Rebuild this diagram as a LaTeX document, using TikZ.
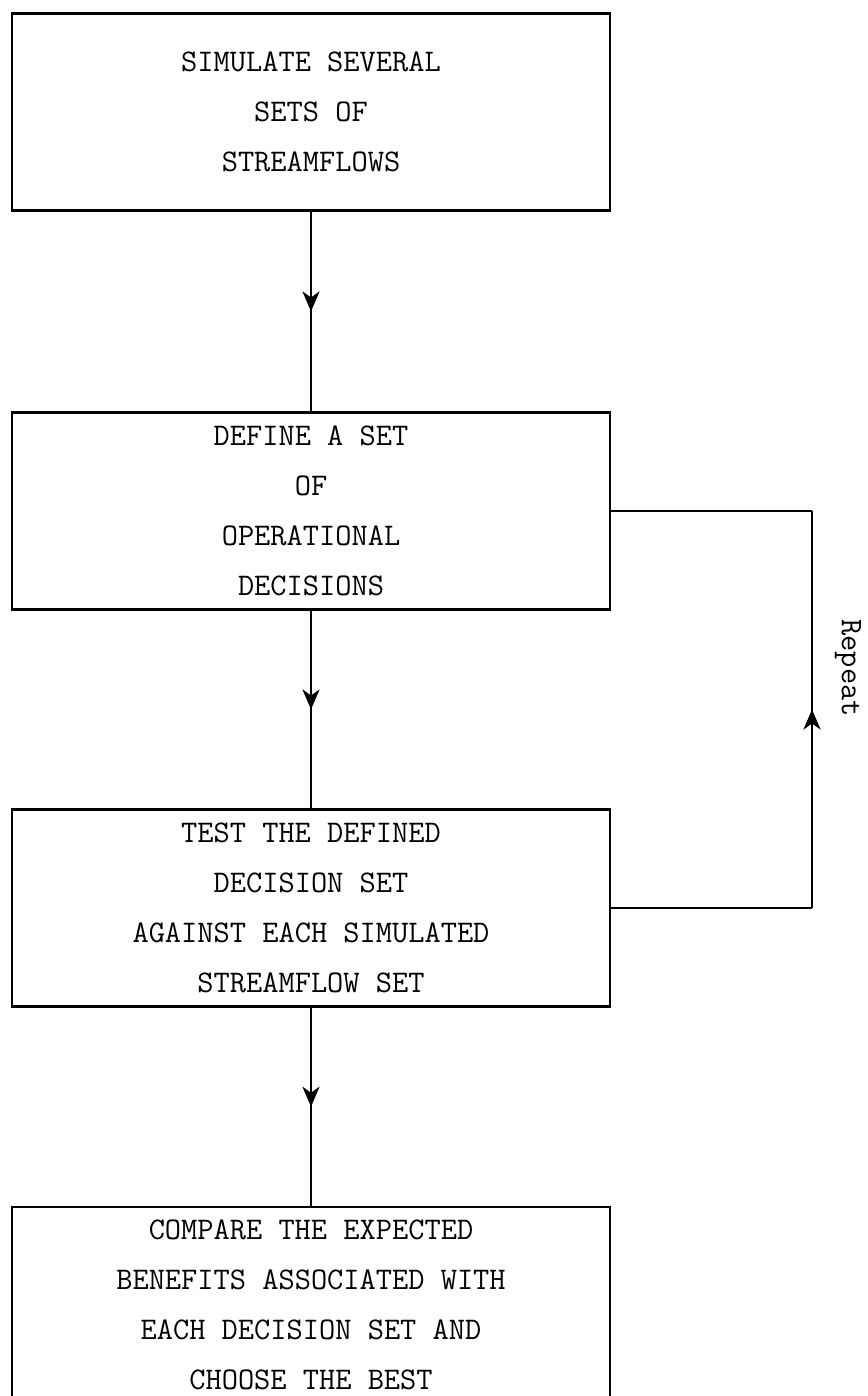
\documentclass[tikz,border=0pt]{standalone}
\usepackage{fontspec}
\usetikzlibrary{arrows.meta,decorations.markings}

\begin{document}
\begin{tikzpicture}[
    x=1pt, y=-1pt,
    % Caixas do fluxograma
    caixa/.style={
        draw,
        line width=2.8pt,
        minimum width=598pt,
        minimum height=197pt,
        align=center,
        font=\ttfamily\fontsize{31.5}{50}\selectfont
    },
    linha/.style={draw, line width=2.8pt},
    % Seta no meio do segmento
    seta/.style={
        linha,
        decoration={markings,
            mark=at position 0.5 with {\arrow{Stealth[length=20pt,width=17pt,inset=6pt]}}},
        postaction={decorate}
    }
]

\useasboundingbox (0,0) rectangle (867,1396);
\clip (0,0) rectangle (867,1396);

% ---- ETAPA 1: SIMULAÇÃO ----
\node[caixa] (simula) at (311,112) {SIMULATE SEVERAL\\SETS OF\\STREAMFLOWS};

% ---- ETAPA 2: DEFINIÇÃO DAS DECISÕES ----
\node[caixa] (define) at (311,511) {DEFINE A SET\\OF\\OPERATIONAL\\DECISIONS};

\draw[seta] (simula.south) -- (define.north);

% ---- ETAPA 3: TESTE ----
\node[caixa] (testa) at (311,908) {TEST THE DEFINED\\DECISION SET\\AGAINST EACH SIMULATED\\STREAMFLOW SET};

\draw[seta] (define.south) -- (testa.north);

% ---- LAÇO DE REPETIÇÃO ----
\coordinate (rep_bas) at (812,908);
\coordinate (rep_top) at (812,511);
\draw[linha] (testa.east) -- (rep_bas);
\draw[seta]  (rep_bas) -- (rep_top);
\draw[linha] (rep_top) -- (define.east);
\node[font=\ttfamily\fontsize{31.5}{32}\selectfont, rotate=-90] (repete) at (848,668) {Repeat};

% ---- ETAPA 4: COMPARAÇÃO ----
\node[caixa, minimum height=196pt] (compara) at (311,1305)
    {COMPARE THE EXPECTED\\BENEFITS ASSOCIATED WITH\\EACH DECISION SET AND\\CHOOSE THE BEST};

\draw[seta] (testa.south) -- (compara.north);

\end{tikzpicture}
\end{document}
